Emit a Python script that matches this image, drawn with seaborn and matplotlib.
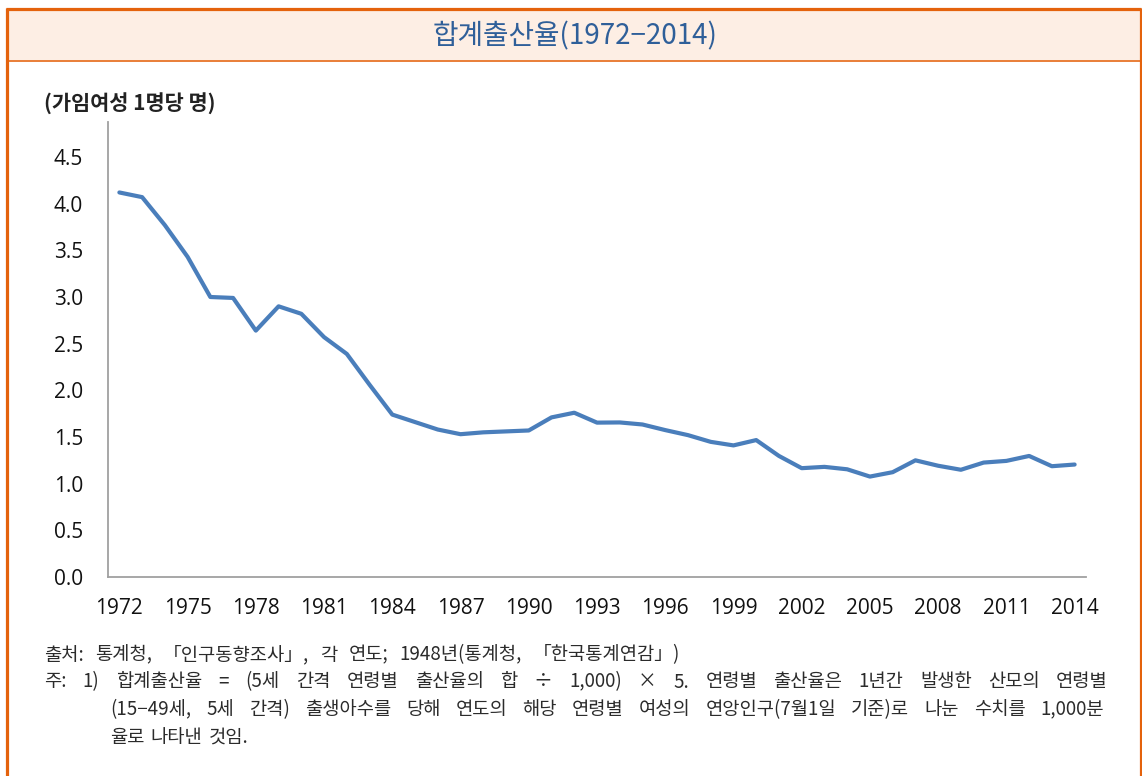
import matplotlib
matplotlib.use("Agg")
import matplotlib.pyplot as plt
from matplotlib.patches import Rectangle
from matplotlib.lines import Line2D
import numpy as np
import pandas as pd
import seaborn as sns

# Total fertility rate, Korea (births per woman)
years = list(range(1972, 2015))
tfr = [4.12, 4.07, 3.77, 3.43, 3.00, 2.99, 2.64, 2.90, 2.82, 2.57,
       2.39, 2.06, 1.74, 1.66, 1.58, 1.53, 1.55, 1.56, 1.57, 1.71,
       1.76, 1.654, 1.656, 1.634, 1.574, 1.520, 1.448, 1.410, 1.467, 1.297,
       1.166, 1.180, 1.154, 1.076, 1.123, 1.250, 1.192, 1.149, 1.226, 1.244,
       1.297, 1.187, 1.205]
x_ticks = list(range(1972, 2015, 3))
y_ticks = [0.0, 0.5, 1.0, 1.5, 2.0, 2.5, 3.0, 3.5, 4.0, 4.5]

title = "합계출산율(1972−2014)"
unit_label = "(가임여성 1명당 명)"
notes = [
    "출처: 통계청, 「인구동향조사」, 각 연도; 1948년(통계청, 「한국통계연감」)",
    "주: 1) 합계출산율 = (5세 간격 연령별 출산율의 합 ÷ 1,000) × 5. 연령별 출산율은 1년간 발생한 산모의 연령별",
    "(15−49세, 5세 간격) 출생아수를 당해 연도의 해당 연령별 여성의 연앙인구(7월1일 기준)로 나눈 수치를 1,000분",
    "율로 나타낸 것임.",
]

df = pd.DataFrame({"year": years, "tfr": tfr})

sns.set_theme(style="white")
plt.rcParams["font.family"] = ["Noto Sans CJK KR", "DejaVu Sans"]

W, H = 1142, 776
fig = plt.figure(figsize=(W / 100, H / 100), dpi=100)
fig.patch.set_facecolor("white")


def fx(px):
    return px / W


def fy(py):
    return 1 - py / H


orange = "#E4620C"

# header band and frame
fig.patches.append(Rectangle((fx(7), fy(60)), fx(1133), (60 - 9) / H,
                             transform=fig.transFigure, facecolor="#FDEEE4",
                             edgecolor="none", zorder=0))
for (x0, y0, x1, y1, lw) in [(6, 8.5, 1140.5, 8.5, 3.2),
                             (6.5, 8, 6.5, 776, 3.2),
                             (1140.5, 8, 1140.5, 776, 3.2),
                             (6, 60.5, 1140, 60.5, 1.6)]:
    fig.add_artist(Line2D([fx(x0), fx(x1)], [fy(y0), fy(y1)],
                          transform=fig.transFigure, color=orange, lw=lw * 0.72,
                          solid_capstyle="butt"))

fig.text(fx(575), fy(36), title, ha="center", va="center",
         fontsize=20, color="#2F5F99", fontweight="medium")

ax = fig.add_axes([fx(108), fy(577), fx(1086 - 108), (577 - 122) / H])
sns.lineplot(data=df, x="year", y="tfr", ax=ax, color="#4A7EBB", lw=3.0)

ax.set_xlim(1971.5, 2014.5)
ax.set_ylim(0, 4.875)
ax.set_xticks(x_ticks)
ax.set_yticks(y_ticks)
ax.set_yticklabels([f"{v:.1f}" for v in y_ticks])
ax.set_xlabel("")
ax.set_ylabel("")
ax.tick_params(axis="both", length=0, labelsize=15, colors="#111111")
ax.tick_params(axis="y", pad=18)
ax.tick_params(axis="x", pad=15)
for lab in ax.get_xticklabels() + ax.get_yticklabels():
    lab.set_family(["Open Sans", "DejaVu Sans"])
for side in ["top", "right"]:
    ax.spines[side].set_visible(False)
for side in ["left", "bottom"]:
    ax.spines[side].set_color("#A0A0A0")
    ax.spines[side].set_linewidth(1.3)
ax.grid(False)
ax.set_facecolor("white")

fig.text(fx(44), fy(104), unit_label, ha="left", va="center",
         fontsize=15, color="#222222", fontweight="bold")

# footnote lines, words spread between a start and an end position
fig.canvas.draw()
renderer = fig.canvas.get_renderer()


def spread_line(text, x0, x1, y, size):
    words = text.split(" ")
    arts = [fig.text(0, fy(y), w, ha="left", va="center", fontsize=size,
                     color="#2B2B2B") for w in words]
    widths = [a.get_window_extent(renderer).width for a in arts]
    if x1 is None or len(words) == 1:
        gap = size * 0.45
    else:
        gap = (x1 - x0 - sum(widths)) / (len(words) - 1)
    x = x0
    for a, w in zip(arts, widths):
        a.set_x(fx(x))
        x += w + gap


note_size = 13.5
spread_line(notes[0], 44, 680, 655, note_size)
spread_line(notes[1], 44, 1108, 682, note_size)
spread_line(notes[2], 110, 1104, 710, note_size)
spread_line(notes[3], 110, None, 737, note_size)

fig.savefig("out.png", dpi=100)
